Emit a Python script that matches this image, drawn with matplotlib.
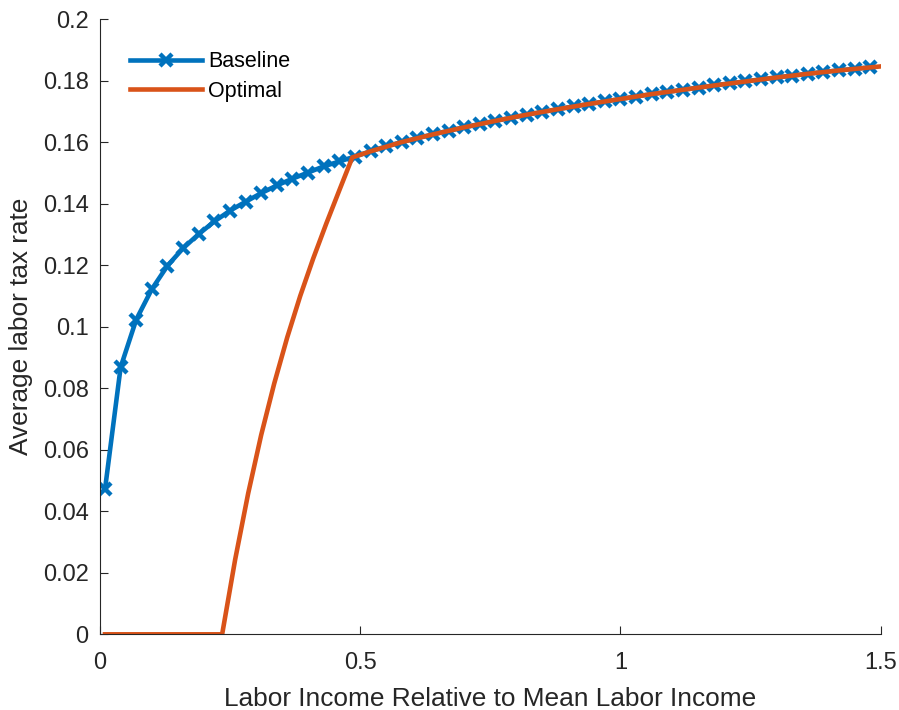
import numpy as np
import matplotlib
matplotlib.use("Agg")
import matplotlib.pyplot as plt

# Datos
baseline_x = [0.01, 0.04, 0.07, 0.10, 0.13, 0.16, 0.19, 0.22, 0.25, 0.28,
              0.31, 0.34, 0.37, 0.40, 0.43, 0.46, 0.49, 0.52, 0.55, 0.58,
              0.61, 0.64, 0.67, 0.70, 0.73, 0.76, 0.79, 0.82, 0.85, 0.88,
              0.91, 0.94, 0.97, 1.00, 1.03, 1.06, 1.09, 1.12, 1.15, 1.18,
              1.21, 1.24, 1.27, 1.30, 1.33, 1.36, 1.39, 1.42, 1.45, 1.48]
baseline_y = [0.0471, 0.0868, 0.1023, 0.1122, 0.1198, 0.1255, 0.1301, 0.1342, 0.1377, 0.1406,
              0.1434, 0.1459, 0.1481, 0.1501, 0.1521, 0.1537, 0.1553, 0.1570, 0.1586, 0.1600,
              0.1613, 0.1625, 0.1637, 0.1648, 0.1659, 0.1669, 0.1679, 0.1689, 0.1698, 0.1707,
              0.1716, 0.1724, 0.1732, 0.1740, 0.1748, 0.1756, 0.1763, 0.1770, 0.1777, 0.1784,
              0.1791, 0.1797, 0.1804, 0.1810, 0.1816, 0.1822, 0.1828, 0.1833, 0.1838, 0.1843]

optimal_x = [0.01, 0.235, 0.26, 0.285, 0.31, 0.335, 0.36, 0.385, 0.41, 0.435, 0.46, 0.485,
             0.52, 0.58, 0.64, 0.70, 0.76, 0.82, 0.88, 0.94, 1.00, 1.06, 1.12, 1.18,
             1.24, 1.30, 1.36, 1.42, 1.50]
optimal_y = [0.0, 0.0, 0.0243, 0.0458, 0.0648, 0.0815, 0.0965, 0.1100, 0.1222, 0.1335, 0.1443, 0.1550,
             0.1570, 0.1600, 0.1625, 0.1648, 0.1669, 0.1689, 0.1707, 0.1724, 0.1740, 0.1756, 0.1770, 0.1784,
             0.1797, 0.1810, 0.1822, 0.1833, 0.1846]

x_ticks = [0, 0.5, 1, 1.5]
x_tick_labels = ["0", "0.5", "1", "1.5"]
y_ticks = [0, 0.02, 0.04, 0.06, 0.08, 0.1, 0.12, 0.14, 0.16, 0.18, 0.2]
y_tick_labels = ["0", "0.02", "0.04", "0.06", "0.08", "0.1", "0.12", "0.14", "0.16", "0.18", "0.2"]

plt.rcParams['font.family'] = ['Liberation Sans', 'DejaVu Sans']
gris = '#262626'

fig = plt.figure(figsize=(8.99, 7.10), dpi=100)
ax = fig.add_axes([0.111, 0.1066, 0.8687, 0.8666])

ax.plot(baseline_x, baseline_y, color='#0072BD', linewidth=3.3, marker='x',
        markersize=8.5, markeredgewidth=3.2, label='Baseline')
ax.plot(optimal_x, optimal_y, color='#D95319', linewidth=3.3, label='Optimal')

ax.set_xlim(0, 1.5)
ax.set_ylim(0, 0.2)
ax.set_xticks(x_ticks)
ax.set_xticklabels(x_tick_labels)
ax.set_yticks(y_ticks)
ax.set_yticklabels(y_tick_labels)

# Estilo tipo MATLAB sin caja
for lado in ['top', 'right']:
    ax.spines[lado].set_visible(False)
for lado in ['left', 'bottom']:
    ax.spines[lado].set_color(gris)
    ax.spines[lado].set_linewidth(0.8)
ax.tick_params(direction='in', length=6, width=0.8, colors=gris,
               labelsize=17, pad=8)
ax.tick_params(axis='x', pad=13)

ax.set_xlabel("Labor Income Relative to Mean Labor Income", fontsize=18.9, color=gris, labelpad=9)
ax.set_ylabel("Average labor tax rate", fontsize=18.9, color=gris, labelpad=7)

ax.legend(loc='upper left', bbox_to_anchor=(0.1446, 0.928), bbox_transform=fig.transFigure,
          frameon=False, borderpad=0, borderaxespad=0, handlelength=3.34,
          handletextpad=0.3, labelspacing=0.4, numpoints=1, fontsize=15.5)

plt.savefig("out.png", dpi=100)
